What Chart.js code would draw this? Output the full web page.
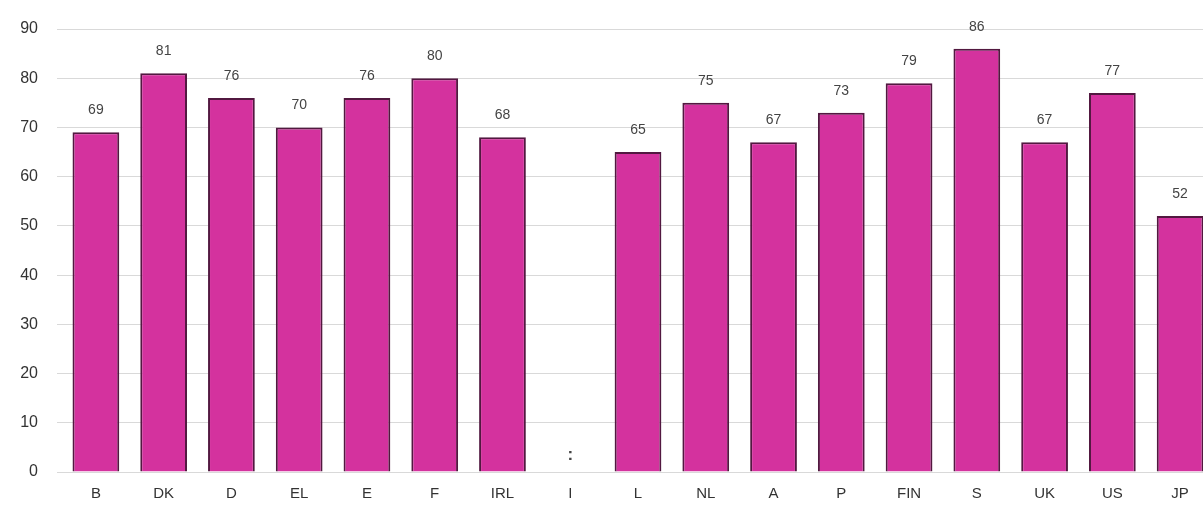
<!DOCTYPE html>
<html>
<head>
<meta charset="utf-8">
<script src="https://cdn.jsdelivr.net/npm/chart.js@4/dist/chart.umd.min.js"></script>
<style>
    html, body { margin: 0; padding: 0; background: #fff; overflow: hidden; }
    #wrap { width: 1216px; height: 511px; }
</style>
</head>
<body>
<div id="wrap"><canvas id="chart" width="1216" height="511"></canvas></div>
<script>
const countries = ['B', 'DK', 'D', 'EL', 'E', 'F', 'IRL', 'I', 'L', 'NL', 'A', 'P', 'FIN', 'S', 'UK', 'US', 'JP'];
const values = [69, 81, 76, 70, 76, 80, 68, null, 65, 75, 67, 73, 79, 86, 67, 77, 52];
const yTicks = [0, 10, 20, 30, 40, 50, 60, 70, 80, 90];

// valeurs au-dessus des barres, ":" quand la donnée manque
const valueLabels = {
    id: 'valueLabels',
    afterDatasetsDraw: function(chart) {
        const ctx = chart.ctx;
        const meta = chart.getDatasetMeta(0);
        const yScale = chart.scales.y;
        ctx.save();
        ctx.textAlign = 'center';
        ctx.textBaseline = 'middle';
        ctx.fillStyle = '#444';
        meta.data.forEach(function(bar, i) {
            const v = values[i];
            if (v === null) {
                ctx.font = 'bold 17px "Liberation Sans", Arial, sans-serif';
                ctx.fillText(':', bar.x, yScale.getPixelForValue(0) - 17);
            } else {
                ctx.font = '14px "Liberation Sans", Arial, sans-serif';
                ctx.fillText(String(v), bar.x, bar.y - 22);
            }
        });
        ctx.restore();
    }
};

new Chart(document.getElementById('chart').getContext('2d'), {
    type: 'bar',
    data: {
        labels: countries,
        datasets: [{
            data: values,
            backgroundColor: '#d4329e',
            borderColor: '#521840',
            borderWidth: { left: 2, right: 2, top: 2, bottom: 0 },
            borderSkipped: 'bottom',
            barPercentage: 0.69,
            categoryPercentage: 1
        }]
    },
    options: {
        responsive: false,
        animation: false,
        layout: { padding: { top: 29, right: 2, left: 0, bottom: 0 } },
        plugins: { legend: { display: false }, tooltip: { enabled: false } },
        scales: {
            x: {
                grid: { display: false, drawTicks: false },
                border: { display: false },
                ticks: {
                    color: '#333',
                    font: { size: 15, family: '"Liberation Sans", Arial, sans-serif' },
                    padding: 13,
                    maxRotation: 0
                },
                afterFit: function(scale) { scale.height = 39; }
            },
            y: {
                min: 0,
                max: 90,
                afterBuildTicks: function(scale) {
                    scale.ticks = yTicks.map(function(v) { return { value: v }; });
                },
                grid: { color: '#d9d9d9', lineWidth: 1, tickLength: 5 },
                border: { display: false },
                ticks: {
                    color: '#333',
                    font: { size: 16, family: '"Liberation Sans", Arial, sans-serif' },
                    padding: 19
                },
                afterFit: function(scale) { scale.width = 62; }
            }
        }
    },
    plugins: [valueLabels]
});
</script>
</body>
</html>
